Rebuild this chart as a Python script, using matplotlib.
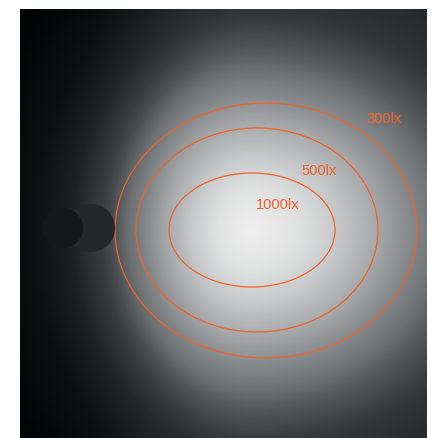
import numpy as np
import matplotlib
matplotlib.use("Agg")
import matplotlib.pyplot as plt
from matplotlib.patches import Ellipse, Circle
from matplotlib.colors import LinearSegmentedColormap

# Isolux contours (levels, ellipse centre / width / height in plan units)
levels = ["300lx", "500lx", "1000lx"]
ell_cx = [266, 257, 252]
ell_cy = [230.5, 230, 230]
ell_w = [302, 242, 166]
ell_h = [255, 204, 114]
label_x = [384, 319, 278]
label_y = [119, 171, 205]

# Luminaire heads (seen from above)
lum_x = [91, 63]
lum_y = [228, 228]
lum_r = [24, 20]
lum_col = ["#25282b", "#15171a"]

# radial brightness profile of the background glow
prof_d = [0, 0.3, 0.55, 0.82, 1.0, 1.3, 1.65, 2.0, 2.6]
prof_v = [1.0, 0.93, 0.8, 0.62, 0.48, 0.28, 0.12, 0.05, 0.0]

X0, X1, Y0, Y1 = 20, 427, 9, 438
fig = plt.figure(figsize=(4.37, 4.38), dpi=100)
ax = fig.add_axes([X0 / 437, 0, (X1 - X0) / 437, (438 - Y0) / 438])
ax.set_xlim(X0, X1)
ax.set_ylim(Y1, Y0)
ax.axis("off")

xs = np.linspace(X0, X1, 600)
ys = np.linspace(Y0, Y1, 600)
XX, YY = np.meshgrid(xs, ys)
cx, cy = 250, 230
sx = np.where(XX < cx, 108, 160)
sy = 135
d = np.sqrt(((XX - cx) / sx) ** 2 + ((YY - cy) / sy) ** 2)
t = np.clip((XX - 60) / 200, 0, 1)
B = 0.1 * t * t * (3 - 2 * t)
V = B + (1 - B) * np.interp(d, prof_d, prof_v)
cmap = LinearSegmentedColormap.from_list(
    "glow", [(0, "#020305"), (0.15, "#25282b"), (0.2, "#2f3336"),
             (0.25, "#3a3d40"), (0.42, "#6e7274"), (0.5, "#7f8385"),
             (0.55, "#8a8d8f"), (1.0, "#efefef")])
ax.imshow(V, extent=[X0, X1, Y1, Y0], cmap=cmap, vmin=0, vmax=1,
          interpolation="bilinear", aspect="auto")

orange = "#f0622a"
for lab, ex, ey, w, h, tx, ty in zip(levels, ell_cx, ell_cy, ell_w, ell_h, label_x, label_y):
    ax.add_patch(Ellipse((ex, ey), w, h, fill=False, ec=orange, lw=0.9))
    ax.text(tx, ty, lab, color=orange, fontsize=10.5, family="Liberation Sans",
            ha="center", va="center")

for x, y, r, c in zip(lum_x, lum_y, lum_r, lum_col):
    ax.add_patch(Circle((x, y), r, fc=c, ec="none"))

fig.savefig("out.png", dpi=100, facecolor="white")
